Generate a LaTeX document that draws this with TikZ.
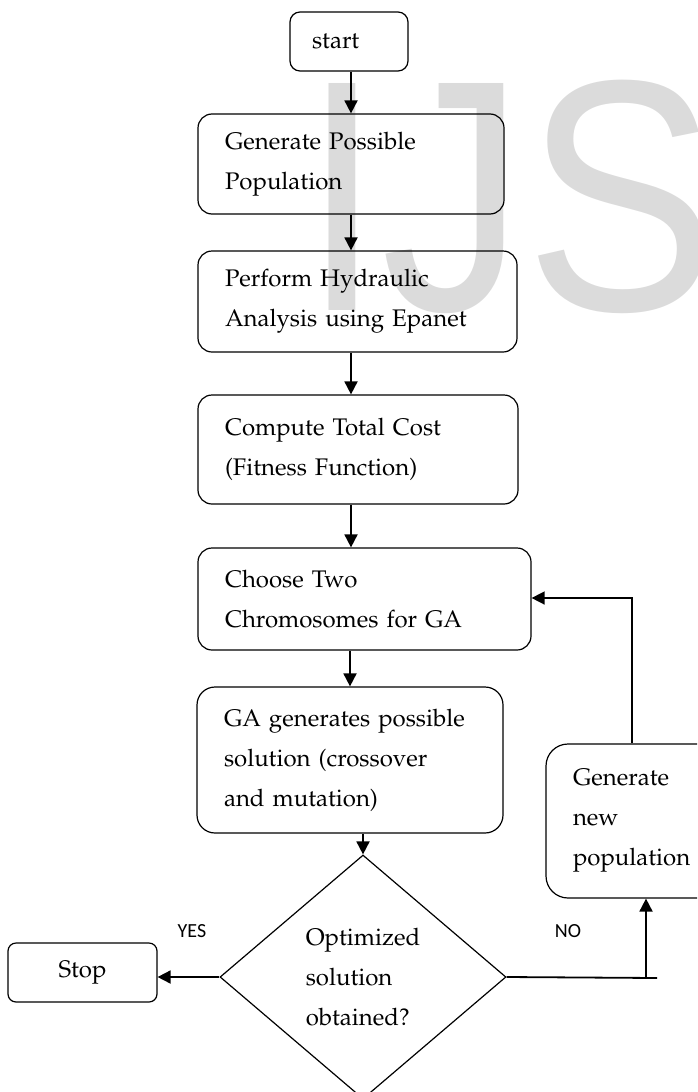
\documentclass[tikz,border=0pt]{standalone}
\usepackage{fontspec}
\newfontfamily\yesnofont{Carlito}
\newfontfamily\markfont{Liberation Sans}
\usepackage[T1]{fontenc}
\usepackage{mathpazo}
\usetikzlibrary{positioning,shapes.geometric,arrows.meta}

\begin{document}
\begin{tikzpicture}[x=1pt,y=-1pt,>={Triangle[length=13pt,width=13pt]},
    box/.style={draw,line width=1.2pt,rounded corners=14pt,align=left,inner xsep=0pt,
      font=\fontsize{24}{40}\selectfont},
    arr/.style={->,line width=1.8pt},
    label/.style={font=\yesnofont\fontsize{20}{20}\selectfont,inner sep=0pt}]

    \useasboundingbox (0,0) rectangle (697,1092);
    \clip (0,0) rectangle (697,1092);

    \node[anchor=base west,inner sep=0pt,xscale=0.87,text=black!14,
      font=\markfont\fontsize{330}{330}\selectfont] (mark) at (302,310) {IJS};

    \node[box,rounded corners=10pt,minimum width=118pt,minimum height=59pt,text width=74pt] (start) at (349,41.5) {start};
    \node[box,minimum width=306pt,minimum height=100pt,text width=252pt] (gen) at (351,164) {Generate Possible\\Population};
    \node[box,minimum width=319pt,minimum height=101pt,text width=265pt] (hyd) at (357.5,301.5) {Perform Hydraulic\\Analysis using Epanet};
    \node[box,minimum width=320pt,minimum height=109pt,text width=266pt] (cost) at (358,449.5) {Compute Total Cost\\(Fitness Function)};
    \node[box,minimum width=333pt,minimum height=102pt,text width=279pt] (choose) at (364.5,599) {Choose Two\\Chromosomes for GA};
    \node[box,rounded corners=18pt,minimum width=306pt,minimum height=146pt,text width=252pt] (ga) at (350,760) {GA generates possible\\solution (crossover\\and mutation)};
    \node[box,rounded corners=22pt,minimum width=180pt,minimum height=154pt,text width=126pt] (newpop) at (636,821) {Generate\\new\\population};
    \node[box,rounded corners=8pt,align=center,minimum width=149pt,minimum height=59pt] (stop) at (82.5,972.5) {Stop};
    \node[diamond,draw,line width=1.2pt,inner sep=0pt,minimum width=286pt,minimum height=244pt,align=left,
      font=\fontsize{24}{40}\selectfont] (dec) at (363,977) {Optimized\\solution\\obtained?};

    \node[label] (yes) at (192,931) {YES};
    \node[label] (no) at (568,931) {NO};

    \draw[arr] (gen.north |- start.south) -- (gen.north);
    \draw[arr] (gen.south) -- (gen.south |- hyd.north);
    \draw[arr] (hyd.south -| gen.south) -- (cost.north -| gen.south);
    \draw[arr] (cost.south -| gen.south) -- (choose.north -| gen.south);
    \draw[arr] (choose.south -| ga.north) -- (ga.north);
    \draw[arr] (ga.south -| dec.north) -- (dec.north);
    \draw[arr] (dec.west) -- (dec.west -| stop.east);

    \coordinate (noend) at (657,978);
    \coordinate (nofoot) at (646,978);
    \coordinate (loopup) at (632,598);
    \draw[line width=1.8pt] (dec.east) -- (noend);
    \draw[arr] (nofoot) -- (nofoot |- newpop.south);
    \draw[arr,line width=1.5pt] (loopup |- newpop.north) -- (loopup) -- (loopup -| choose.east);
\end{tikzpicture}
\end{document}
